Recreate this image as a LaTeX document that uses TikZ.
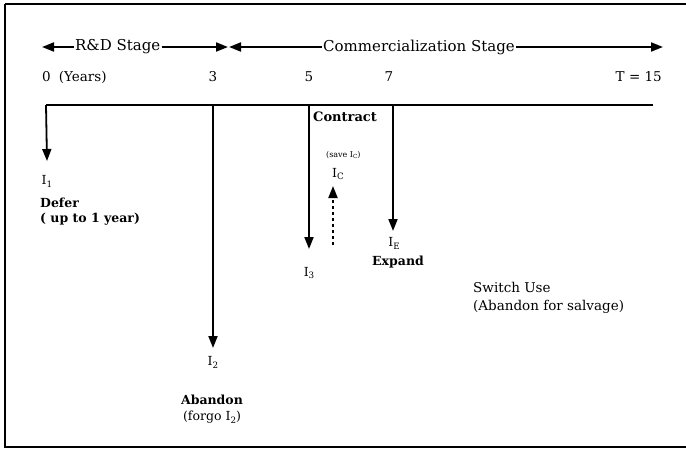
\documentclass[tikz,border=0pt]{standalone}
\usepackage{fontspec}
\setmainfont{DejaVu Serif}
\usetikzlibrary{arrows.meta}
\newcommand\lowsub[1]{\raisebox{-0.45ex}{\scalebox{0.7}{#1}}}
\begin{document}
\begin{tikzpicture}[x=1pt,y=-1pt,
  line/.style={line width=1.8pt},
  tip/.style={-{Triangle[length=12pt,width=9pt]}},
  lbl/.style={inner sep=0pt,font=\fontsize{12.5}{14}\selectfont},
  swl/.style={inner sep=0pt,font=\fontsize{13.5}{15}\selectfont},
  num/.style={inner sep=0pt,font=\fontsize{13.5}{15}\selectfont},
  blbl/.style={inner sep=0pt,font=\fontsize{12.5}{14}\selectfont\bfseries},
  stage/.style={inner sep=1pt,font=\fontsize{15}{17}\selectfont}]
\useasboundingbox (0,0) rectangle (686,450);
\clip (0,0) rectangle (686,450);
% frame (open to the right edge)
\draw[line width=1.8pt] (5,4) -- (686,4);
\draw[line width=1.8pt] (5,4) -- (5,447) -- (686,447);
% stage headers
\node[stage,anchor=west] (rd) at (74,47) {R\&D Stage};
\node[stage,anchor=west] (cs) at (322,47) {Commercialization Stage};
\coordinate (rdL) at (42,47);
\coordinate (rdR) at (228,47);
\coordinate (csL) at (229,47);
\coordinate (csR) at (663,47);
\draw[line,tip] (rd.west) -- (rdL);
\draw[line,tip] (rd.east) -- (rdR);
\draw[line,tip] (cs.west) -- (csL);
\draw[line,tip] (cs.east) -- (csR);
% year labels
\node[num,anchor=west] (y0) at (42,77) {0\hspace{0.6em}(Years)};
\node[num] (y3) at (213,77) {3};
\node[num] (y5) at (309,77) {5};
\node[num] (y7) at (389,77) {7};
\node[num,anchor=east] (y15) at (662,77) {T = 15};
% main timeline
\coordinate (m0) at (46,105);
\coordinate (m3) at (213,105);
\coordinate (m5) at (309,105);
\coordinate (m7) at (393,105);
\coordinate (mE) at (653,105);
\draw[line] (m0) -- (mE);
% drops
\node[lbl] (i1) at (47,181) {I\lowsub{1}};
\node[lbl] (i2) at (213,362) {I\lowsub{2}};
\node[lbl] (i3) at (309,273) {I\lowsub{3}};
\node[lbl] (ie) at (394,243) {I\lowsub{E}};
\coordinate (t1) at (47,161);
\coordinate (t2) at (213,348);
\coordinate (t3) at (309,249);
\coordinate (te) at (393,231);
\draw[line,tip] (m0) -- (t1);
\draw[line,tip] (m3) -- (t2);
\draw[line,tip] (m5) -- (t3);
\draw[line,tip] (m7) -- (te);
% contract
\node[inner sep=0pt,font=\fontsize{13}{14}\selectfont\bfseries,anchor=west] (contract) at (313,117) {Contract};
\node[inner sep=0pt,font=\fontsize{8}{9}\selectfont,anchor=west] (save) at (326,155) {(save I\lowsub{C})};
\node[lbl] (ic) at (338,174) {I\lowsub{C}};
\coordinate (dsB) at (333,245);
\coordinate (dsT) at (333,186);
\draw[line width=1.8pt,dash pattern=on 3pt off 3pt,-{Triangle[length=12pt,width=9pt]}] (dsB) -- (dsT);
% other labels
\node[blbl,anchor=west] (expand) at (372,262) {Expand};
\node[blbl,anchor=west] (defer) at (40,203) {Defer};
\node[blbl,anchor=west] (defer2) at (40,219) {( up to 1 year)};
\node[blbl] (aband) at (212,400) {Abandon};
\node[lbl] (forgo) at (212,417) {(forgo I\lowsub{2})};
\node[swl,anchor=west] (sw) at (473,287) {Switch Use};
\node[swl,anchor=west] (sw2) at (473,307) {(Abandon for salvage)};
\end{tikzpicture}
\end{document}
